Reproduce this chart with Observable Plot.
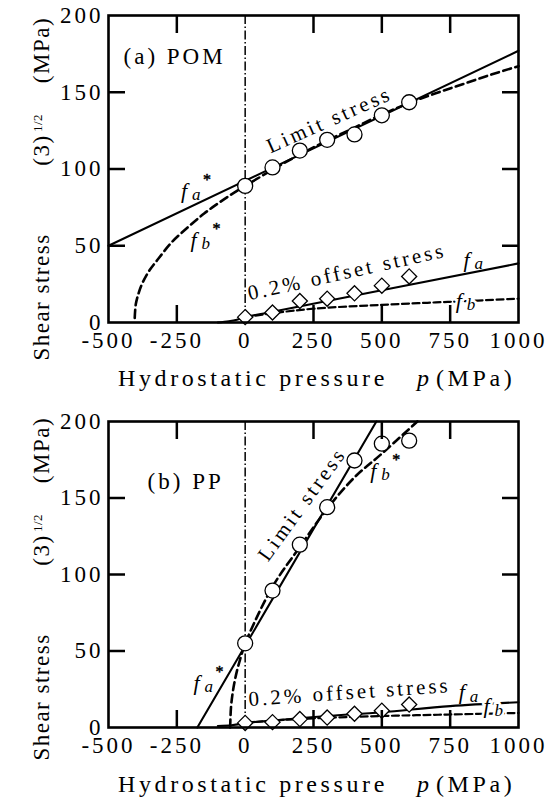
<!DOCTYPE html>
<html>
<head>
<meta charset="utf-8">
<script src="https://cdn.jsdelivr.net/npm/d3@7"></script>
<script src="https://cdn.jsdelivr.net/npm/@observablehq/plot@0.6"></script>
<style>
  body { margin: 0; background: #fff; }
  #chart svg { display: block; }
</style>
</head>
<body>
<div id="chart"></div>
<script>
// Test pressures (MPa) at which both polymers were measured
const pressure = [0, 100, 200, 300, 400, 500, 600];

// (a) POM: limit stress (circles) and 0.2% offset stress (diamonds), MPa
const pomLimit = [89, 101, 112, 119, 122.5, 135, 143.5];
const pomOffset = [3.5, 6.5, 14, 15.5, 19, 24, 30];

// (b) PP
const ppLimit = [55, 89.5, 119.5, 144, 174.5, 185.5, 187.5];
const ppOffset = [3, 3.5, 5.5, 6.5, 9, 11, 15];

// Yield criterion curves, POM
const pomFaStarP = [-500, 1000];
const pomFaStarV = [50, 177];
const pomFbStarP = [-404, -400, -390, -375, -350, -320, -270, -210, -150, -100, -50, 0, 100, 200, 300, 400, 500, 600, 700, 800, 900, 1000];
const pomFbStarV = [3, 12, 19, 26, 34, 41, 52, 62, 71, 77.5, 83.5, 89, 99.5, 109.5, 118.5, 127, 135.5, 143, 149.5, 155.5, 161.5, 167];
const pomFaP = [-100, -60, -30, 0, 100, 1000];
const pomFaV = [0, 0.8, 1.8, 3.5, 7, 38.5];
const pomFbP = [0, 100, 250, 500, 750, 1000];
const pomFbV = [3.5, 6, 9, 11.5, 13.5, 15.5];

// Yield criterion curves, PP
const ppFaStarP = [-175, 480];
const ppFaStarV = [0, 200];
const ppFbStarP = [-55, -52, -47, -40, -30, -20, -10, 0, 100, 200, 300, 400, 500, 630];
const ppFbStarV = [0, 12.8, 21, 28.7, 37, 43.6, 49.6, 55, 92, 118, 143, 163.5, 179, 200];
const ppFaP = [-100, -50, -20, 0, 100, 300, 500, 750, 1000];
const ppFaV = [1, 1.5, 2.2, 3, 4.5, 7.5, 10, 14, 16.5];
const ppFbP = [0, 100, 250, 500, 750, 1000];
const ppFbV = [3, 4.5, 6, 7.5, 8.5, 9.5];

// Axis ticks
const xTickLabels = [-500, -250, 0, 250, 500, 750, 1000];
const xTickMarks = [-250, 250, 500, 750];
const yTickLabels = [0, 50, 100, 150, 200];
const yTickMarks = [50, 100, 150];

const FONT = '"Liberation Serif", "Times New Roman", Times, serif';

const series = (ps, vs) => ps.map((p, i) => ({p, v: vs[i]}));

const panels = [
  {
    height: 392, top: 15, bottom: 70,
    tag: {p: -445, v: 173, text: "(a) POM"},
    limit: series(pressure, pomLimit),
    offset: series(pressure, pomOffset),
    faStar: series(pomFaStarP, pomFaStarV),
    fbStar: series(pomFbStarP, pomFbStarV),
    fa: series(pomFaP, pomFaV),
    fb: series(pomFbP, pomFbV),
    curveLabels: [
      {p: 308, v: 132, angle: -24, text: "Limit stress", ls: "3px"},
      {p: 372, v: 33, angle: -12.5, text: "0.2% offset stress", ls: "2px"}
    ],
    fLabels: [
      {p: -235, v: 86, sub: "a", star: true, halo: false},
      {p: -200, v: 54, sub: "b", star: true, halo: false},
      {p: 799, v: 41, sub: "a", star: false, halo: false},
      {p: 770, v: 14.3, sub: "b", star: false, halo: true}
    ],
    xTitleY: 385.5, yShift: 0
  },
  {
    height: 406, top: 29, bottom: 71,
    tag: {p: -357, v: 161, text: "(b) PP"},
    limit: series(pressure, ppLimit),
    offset: series(pressure, ppOffset),
    faStar: series(ppFaStarP, ppFaStarV),
    fbStar: series(ppFbStarP, ppFbStarV),
    fa: series(ppFaP, ppFaV),
    fb: series(ppFbP, ppFbV),
    curveLabels: [
      {p: 208, v: 146, angle: -54, text: "Limit stress", ls: "3px"},
      {p: 382, v: 23, angle: -4, text: "0.2% offset stress", ls: "2px"}
    ],
    fLabels: [
      {p: 458, v: 168, sub: "b", star: true, halo: false},
      {p: -189, v: 29.4, sub: "a", star: true, halo: false},
      {p: 781, v: 23, sub: "a", star: false, halo: false},
      {p: 872, v: 14, sub: "b", star: false, halo: true}
    ],
    xTitleY: 400, yShift: 8
  }
];

// italic f with a subscript letter and an optional asterisk
function fMarks(labels, halo) {
  const data = labels.filter(d => d.halo === halo);
  const common = halo ? {stroke: "white", strokeWidth: 5, fill: "black"} : {fill: "black"};
  return [
    Plot.text(data, {x: "p", y: "v", text: () => "f", fontStyle: "italic", fontSize: 22, textAnchor: "start", ...common}),
    Plot.text(data, {x: "p", y: "v", text: "sub", fontStyle: "italic", fontSize: 17, textAnchor: "start", dx: 11, dy: 4, ...common}),
    Plot.text(data.filter(d => d.star), {x: "p", y: "v", text: () => "*", fontSize: 16, textAnchor: "start", dx: 22, dy: -11, fill: "black", stroke: "black", strokeWidth: 0.5})
  ];
}

function panel(o) {
  const svg = Plot.plot({
    width: 554,
    height: o.height,
    marginLeft: 108,
    marginRight: 36,
    marginTop: o.top,
    marginBottom: o.bottom,
    style: {fontFamily: FONT, color: "black", background: "white", letterSpacing: "3px"},
    x: {domain: [-500, 1000]},
    y: {domain: [0, 200]},
    marks: [
      // zero-pressure reference line
      Plot.ruleX([0], {stroke: "black", strokeWidth: 1.5, strokeDasharray: "9,2.5,1.5,2.5"}),
      Plot.line(o.fbStar, {x: "p", y: "v", curve: "catmull-rom", stroke: "black", strokeWidth: 2.6, strokeDasharray: "8,4.5"}),
      Plot.line(o.faStar, {x: "p", y: "v", stroke: "black", strokeWidth: 2.1}),
      Plot.line(o.fb, {x: "p", y: "v", curve: "catmull-rom", stroke: "black", strokeWidth: 2.2, strokeDasharray: "7,3.5"}),
      Plot.line(o.fa, {x: "p", y: "v", curve: "catmull-rom", stroke: "black", strokeWidth: 2.1}),
      Plot.dot(o.limit, {x: "p", y: "v", r: 7.5, fill: "white", stroke: "black", strokeWidth: 1.3}),
      Plot.dot(o.offset, {x: "p", y: "v", r: 6.8, symbol: "diamond2", fill: "white", stroke: "black", strokeWidth: 1.3}),
      Plot.text([o.tag], {x: "p", y: "v", text: "text", textAnchor: "start", fontSize: 23, ariaLabel: "panel tag"}),
      Plot.text(o.curveLabels, {x: "p", y: "v", text: "text", rotate: "angle", fontSize: 21, ariaLabel: "curve label"}),
      ...fMarks(o.fLabels, false),
      ...fMarks(o.fLabels, true),
      // tick labels
      Plot.axisX(xTickLabels, {anchor: "bottom", tickSize: 0, tickPadding: 9, fontSize: 23, tickFormat: d => String(d), label: null}),
      Plot.axisY(yTickLabels, {anchor: "left", tickSize: 0, tickPadding: 5, fontSize: 23, tickFormat: d => String(d), label: null}),
      // inward tick marks on all four sides
      Plot.axisX(xTickMarks, {anchor: "bottom", tickSize: -17, strokeWidth: 2.5, tickFormat: () => "", label: null}),
      Plot.axisX(xTickMarks, {anchor: "top", tickSize: -17, strokeWidth: 2.5, tickFormat: () => "", label: null}),
      Plot.axisY(yTickMarks, {anchor: "left", tickSize: -17, strokeWidth: 2.5, tickFormat: () => "", label: null}),
      Plot.axisY(yTickMarks, {anchor: "right", tickSize: -17, strokeWidth: 2.5, tickFormat: () => "", label: null}),
      Plot.frame({stroke: "black", strokeWidth: 2.6})
    ]
  });

  const s = d3.select(svg);
  s.selectAll('g[aria-label="curve label"] text').each(function(d, i) {
    d3.select(this).style("letter-spacing", o.curveLabels[i].ls);
  });
  s.selectAll('g[aria-label="panel tag"] text').style("letter-spacing", "4.5px");

  // axis titles
  const g = s.append("g").attr("fill", "black").attr("text-anchor", "start");
  const xt = g.append("text").attr("y", o.xTitleY).attr("font-size", 24).style("letter-spacing", "3.6px");
  xt.append("tspan").attr("x", 118).text("Hydrostatic pressure");
  xt.append("tspan").attr("x", 417).attr("font-style", "italic").text("p");
  xt.append("tspan").attr("x", 436).text("(MPa)");

  const yParts = [
    {text: "Shear stress", c: 297, size: 23, base: 49},
    {text: "(3)", c: 150, size: 23, base: 49},
    {text: "1/2", c: 123, size: 13, base: 42},
    {text: "(MPa)", c: 50, size: 23, base: 49}
  ];
  for (const part of yParts) {
    g.append("text")
      .attr("transform", `translate(${part.base},${part.c + o.yShift}) rotate(-90)`)
      .attr("text-anchor", "middle")
      .attr("font-size", part.size)
      .style("letter-spacing", part.size > 20 ? "1.5px" : "0.5px")
      .text(part.text);
  }
  return svg;
}

const root = document.getElementById("chart");
for (const o of panels) root.appendChild(panel(o));
</script>
</body>
</html>
